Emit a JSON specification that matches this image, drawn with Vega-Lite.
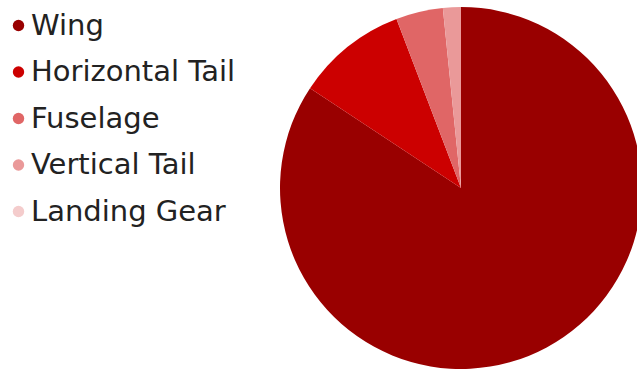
{
  "$schema": "https://vega.github.io/schema/vega-lite/v6.json",
  "width": 352,
  "height": 362,
  "autosize": "none",
  "padding": {"left": 285, "top": 7, "right": 0, "bottom": 0},
  "background": "white",
  "config": {"view": {"stroke": null}},
  "data": {"values": [
    {"part": "Wing", "share": 84.3, "rank": 1},
    {"part": "Horizontal Tail", "share": 9.9, "rank": 2},
    {"part": "Fuselage", "share": 4.2, "rank": 3},
    {"part": "Vertical Tail", "share": 1.6, "rank": 4},
    {"part": "Landing Gear", "share": 0.0, "rank": 5}
  ]},
  "mark": {"type": "arc", "outerRadius": 181},
  "encoding": {
    "theta": {"field": "share", "type": "quantitative", "stack": true},
    "order": {"field": "rank", "type": "quantitative"},
    "color": {
      "field": "part", "type": "nominal",
      "scale": {
        "domain": ["Wing", "Horizontal Tail", "Fuselage", "Vertical Tail", "Landing Gear"],
        "range": ["#990000", "#cc0000", "#e06666", "#ea9999", "#f4cccc"]
      },
      "legend": {
        "title": null,
        "orient": "none",
        "legendX": -281,
        "legendY": 4,
        "padding": 0,
        "symbolType": "circle",
        "symbolSize": 130,
        "symbolStrokeWidth": 0,
        "labelFont": "DejaVu Sans",
        "labelFontSize": 29,
        "labelColor": "#222222",
        "labelOffset": -2,
        "rowPadding": 16.5,
        "labelLimit": 400
      }
    }
  }
}
